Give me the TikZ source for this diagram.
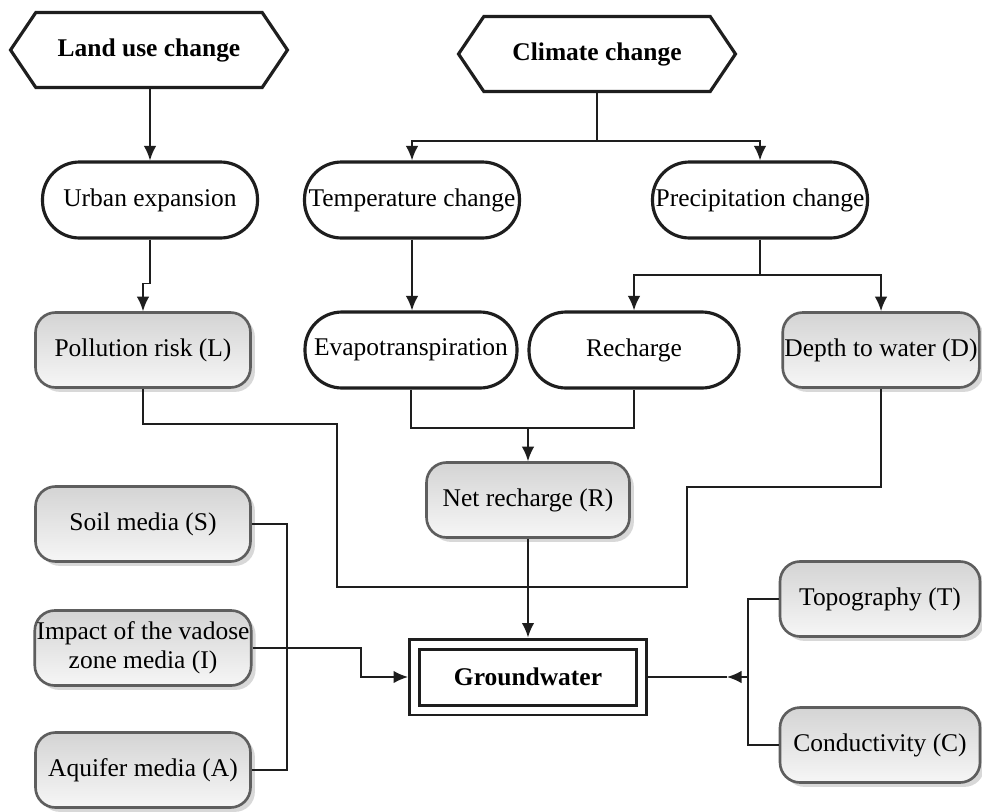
\documentclass[tikz,border=0pt]{standalone}
\usepackage{fontspec}
\setmainfont{Liberation Serif}
\usepackage{xcolor}
\usepackage{tikz}
\usetikzlibrary{arrows.meta,shapes.symbols,shadows}
\definecolor{fline}{HTML}{1E1E1E}
\definecolor{fgray}{HTML}{D4D4D4}
\definecolor{fgrayl}{HTML}{F6F6F6}
\definecolor{fgrayd}{HTML}{5E5E5E}
\newcommand{\fs}{\fontsize{14.5}{16.5}\selectfont}
\tikzset{
  % pointed box for the two drivers
  hexa/.style   = {signal, signal to=east and west, signal pointer angle=112, draw=fline,
                   line width=1.8pt, minimum width=5.54cm, minimum height=1.5cm,
                   inner sep=2pt, font=\bfseries\fs},
  pill/.style   = {rectangle, rounded corners=0.74cm, draw=fline, line width=1.8pt,
                   minimum width=#1, minimum height=1.52cm, inner sep=1pt, font=\fs},
  pill/.default = 4.3cm,
  % grey shaded DRASTIC factor
  factor/.style = {rectangle, rounded corners=0.4cm, draw=fgrayd, line width=1.5pt,
                   top color=fgray, bottom color=fgrayl,
                   drop shadow={shadow xshift=2.5pt, shadow yshift=-2.5pt, fill=gray!60, opacity=.5},
                   minimum width=#1, minimum height=1.5cm, align=center, inner sep=1pt, font=\fs},
  factor/.default = 4.3cm,
  core/.style   = {rectangle, draw=fline, line width=1.7pt, double, double distance=0.14cm,
                   outer sep=0.13cm, minimum width=4.54cm, minimum height=1.32cm,
                   font=\bfseries\fs},
  link/.style   = {line width=1pt, fline},
  arr/.style    = {link, -{Latex[length=2.9mm, width=2.5mm]}},
}
\begin{document}
\begin{tikzpicture}[x=0.02cm, y=-0.02cm]
\useasboundingbox[fill=white] (0,0) rectangle (982,811);
% drivers
\node[hexa] (land) at (149,50) {Land use change};
\node[hexa] (climate) at (597,54) {Climate change};
% first effects
\node[pill] (urban) at (150,200) {Urban expansion};
\node[pill] (temp) at (412,200) {Temperature change};
\node[pill] (precip) at (760,200) {Precipitation change};
% second row
\node[factor] (poll) at (143,350) {Pollution risk (L)};
\node[pill=4.24cm] (evapo) at (411,350) {Evapotranspiration};
\node[pill=4.2cm] (rech) at (634,350) {Recharge};
\node[factor=3.88cm] (depth) at (881,350) {Depth to water (D)};
\node[factor=4.06cm] (net) at (528,500) {Net recharge (R)};
% left factors
\node[factor] (soil) at (143,524) {Soil media (S)};
\node[factor] (impact) at (143,648) {Impact of the vadose\\zone media (I)};
\node[factor] (aquifer) at (143,770) {Aquifer media (A)};
% right factors
\node[factor=4cm] (topo) at (880,599) {Topography (T)};
\node[factor=4cm] (cond) at (880,745) {Conductivity (C)};
\node[core] (gw) at (528,677) {Groundwater};
% bends
\coordinate (cj) at (597,141);
\coordinate (pj) at (760,275);
\coordinate (nj) at (528,428);
\coordinate (pk) at (337,424);
\coordinate (bjl) at (337,587);
\coordinate (bjr) at (687,587);
\coordinate (dk) at (687,487);
\coordinate (lb) at (287,648);
\coordinate (ik) at (361,677);
\coordinate (rb) at (748,677);
\coordinate (rk) at (727,677);
\draw[arr] (urban.north |- land.south) -- (urban.north);
\draw[link] (climate.south) -- (cj);
\draw[arr] (cj) -| (temp.north);
\draw[arr] (cj) -| (precip.north);
\draw[arr] (urban.south) -- ++(0,44) -| (poll.north);
\draw[arr] (temp.south) -- (temp.south |- evapo.north);
\draw[link] (precip.south) -- (pj);
\draw[arr] (pj) -| (rech.north);
\draw[arr] (pj) -| (depth.north);
\draw[link] (evapo.south) |- (nj) -| (rech.south);
\draw[arr] (nj) -- (net.north);
\draw[arr] (net.south) -- (gw.north);
\draw[link] (poll.south) |- (pk) -- (bjl) -- (bjr) -- (dk) -| (depth.south);
\draw[link] (soil.east) -| (lb) |- (aquifer.east);
\draw[arr] (impact.east) -| (ik) -- (gw.west);
\draw[link] (topo.west) -| (rb) |- (cond.west);
\draw[arr] (rb) -- (rk);
\draw[link] (rk) -- (gw.east);
\end{tikzpicture}
\end{document}
